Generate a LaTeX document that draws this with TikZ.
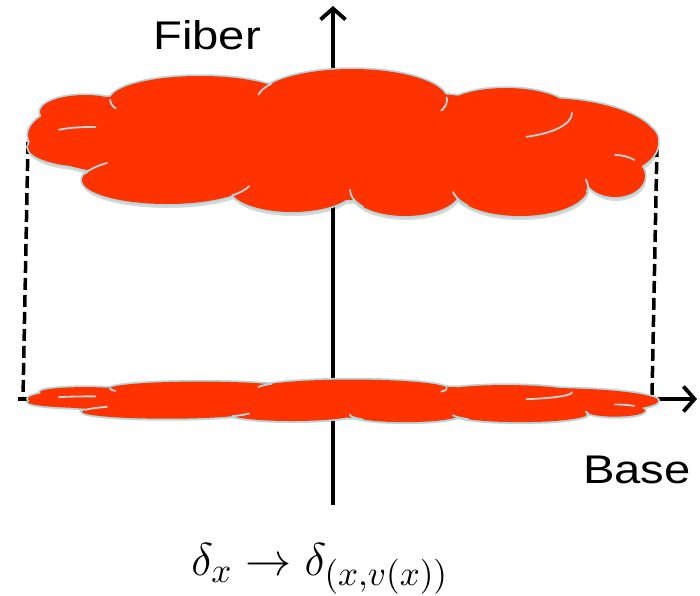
\documentclass[tikz,border=0pt]{standalone}
\usepackage{fontspec}
\setmainfont{Liberation Sans}
\usetikzlibrary{arrows.meta}
\definecolor{cloudred}{HTML}{FF3300}
\definecolor{cloudedge}{HTML}{B0D8DC}
\newcommand\mylobes{%
 (-258,-31) ellipse [x radius=45, y radius=17]
 (-253,4) ellipse [x radius=62, y radius=20]
 (-143,-43) ellipse [x radius=90, y radius=24]
 (9,-43) ellipse [x radius=95, y radius=31]
 (163,-30) ellipse [x radius=66, y radius=25]
 (252,-3) ellipse [x radius=63, y radius=27]
 (272,33) ellipse [x radius=30, y radius=21]
 (177,44) ellipse [x radius=68, y radius=29]
 (62,47) ellipse [x radius=55, y radius=26]
 (-51,45) ellipse [x radius=62, y radius=24]
 (-176,37) ellipse [x radius=85, y radius=24]
 (0,2) ellipse [x radius=260, y radius=55]
 (-200,-8) ellipse [x radius=115, y radius=40]
 (200,0) ellipse [x radius=115, y radius=45]}
% interior arcs: centre, radii, start and end angle
\newcommand\myarc[6]{(#1,#2) ++(#5:#3 and #4) arc[start angle=#5, end angle=#6, x radius=#3, y radius=#4]}
\newcommand\myarcs{%
 \myarc{-143}{-43}{90}{24}{180}{160}
 \myarc{-253}{4}{62}{20}{240}{275}
 \myarc{9}{-43}{95}{31}{190}{212}
 \myarc{9}{-43}{95}{31}{-5}{20}
 \myarc{163}{-30}{66}{25}{0}{72}
 \myarc{272}{33}{30}{21}{270}{310}
 \myarc{177}{44}{68}{29}{-15}{10}
 \myarc{177}{44}{68}{29}{170}{140}
 \myarc{62}{47}{55}{26}{180}{140}
 \myarc{-176}{37}{85}{24}{40}{15}
 \myarc{-176}{37}{85}{24}{195}{225}}
\tikzset{
 axis/.style={line width=4pt, -{Straight Barb[length=11pt, width=25pt, line width=3.8pt]}},
 proj/.style={line width=3.5pt, dash pattern=on 12pt off 5pt},
 lbl/.style={font=\fontsize{40}{44}\selectfont, inner sep=0pt},
 cloudshadow/.style={fill=black, opacity=0.15},
 cloudrim/.style={draw=cloudedge, line width=3.5pt},
 cloudfill/.style={fill=cloudred},
 cloudarc/.style={draw=cloudedge, line width=1.8pt, line cap=round}
}
\begin{document}
\begin{tikzpicture}[x=1pt,y=-1pt]
\useasboundingbox (0,0) rectangle (700,595);
% axes
\coordinate (vb) at (333,505);
\coordinate (vt) at (333,6);
\coordinate (hl) at (18,399);
\coordinate (hr) at (697,399);
\draw[axis] (vb) -- (vt);
\draw[axis] (hl) -- (hr);
% projection lines
\coordinate (lt) at (28,142);
\coordinate (lb) at (23,398);
\coordinate (rt) at (657,145);
\coordinate (rb) at (652,396);
\draw[proj] (lt) -- (lb);
\draw[proj] (rt) -- (rb);
% top cloud
\begin{scope}[shift={(344,147)}]
 \path[cloudshadow] \mylobes;
\end{scope}
\begin{scope}[shift={(343,143)}]
 \path[cloudrim] \mylobes;
 \path[cloudfill] \mylobes;
 \path[cloudarc] \myarcs;
\end{scope}
% bottom cloud
\begin{scope}[shift={(344,403)}, yscale=0.29]
 \path[cloudshadow] \mylobes;
\end{scope}
\begin{scope}[shift={(343,401)}, yscale=0.29]
 \path[cloudrim] \mylobes;
 \path[cloudfill] \mylobes;
 \path[cloudarc] \myarcs;
\end{scope}
% labels
\node[lbl] (fiber) at (207,35) {\scalebox{1.18}[1]{Fiber}};
\node[lbl] (base) at (637,470) {\scalebox{1.18}[1]{Base}};
\node[inner sep=0pt, font=\fontsize{15}{18}\selectfont] (formula) at (320,569) {\scalebox{3.2}{$\delta_x \to \delta_{(x,v(x))}$}};
\end{tikzpicture}
\end{document}
